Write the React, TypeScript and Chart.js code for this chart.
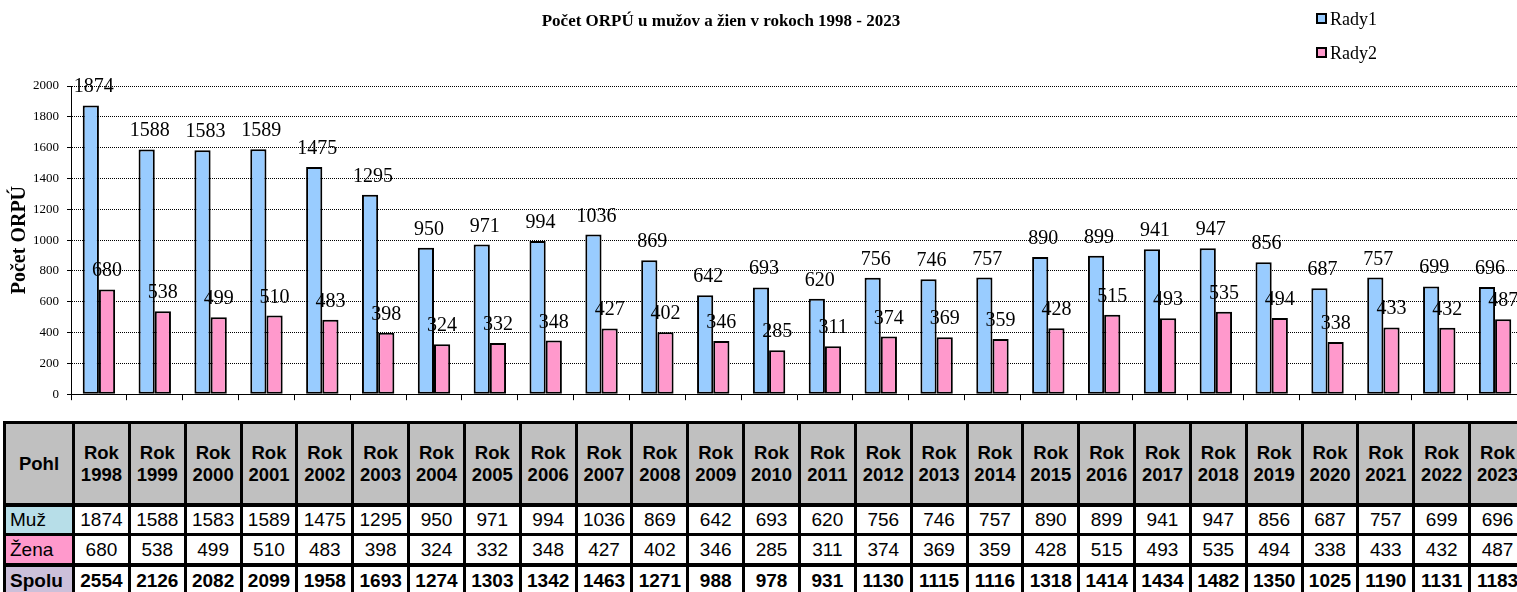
import { useEffect, useRef } from 'react';
import { Chart, registerables } from 'chart.js';

Chart.register(...registerables);

// ---------- data ----------
const years = [
  '1998', '1999', '2000', '2001', '2002', '2003', '2004', '2005', '2006',
  '2007', '2008', '2009', '2010', '2011', '2012', '2013', '2014', '2015',
  '2016', '2017', '2018', '2019', '2020', '2021', '2022', '2023',
];
const seriesNames = ['Rady1', 'Rady2'];
const muz = [
  1874, 1588, 1583, 1589, 1475, 1295, 950, 971, 994, 1036, 869, 642, 693,
  620, 756, 746, 757, 890, 899, 941, 947, 856, 687, 757, 699, 696,
];
const zena = [
  680, 538, 499, 510, 483, 398, 324, 332, 348, 427, 402, 346, 285, 311, 374,
  369, 359, 428, 515, 493, 535, 494, 338, 433, 432, 487,
];
const spolu = [
  2554, 2126, 2082, 2099, 1958, 1693, 1274, 1303, 1342, 1463, 1271, 988, 978,
  931, 1130, 1115, 1116, 1318, 1414, 1434, 1482, 1350, 1025, 1190, 1131, 1183,
];
const rowLabels = ['Muž', 'Žena', 'Spolu'];
const headerLabel = 'Pohl';
const yearPrefix = 'Rok';
const chartTitle = 'Počet ORPÚ u mužov a žien v rokoch 1998 - 2023';
const yAxisTitle = 'Počet ORPÚ';
const yMin = 0;
const yMax = 2000;
const yStep = 200;

// ---------- styles ----------
const SERIF = '"Liberation Serif", "Times New Roman", serif';
const SANS = '"Liberation Sans", Arial, sans-serif';
const barColors = ['#99ccff', '#ff99cc'];
const rowColors = ['#b7dee8', '#ff99cc', '#ccc0da'];
const CANVAS_W = 1530;
const CANVAS_H = 410;

const valueLabels = {
  id: 'valueLabels',
  afterDatasetsDraw(chart: any) {
    const ctx = chart.ctx;
    ctx.save();
    ctx.font = `20px ${SERIF}`;
    ctx.fillStyle = '#000';
    ctx.textAlign = 'center';
    ctx.textBaseline = 'alphabetic';
    chart.data.datasets.forEach((ds: any, di: number) => {
      const meta = chart.getDatasetMeta(di);
      meta.data.forEach((el: any, i: number) => {
        ctx.fillText(String(ds.data[i]), el.x + (di === 0 ? 3 : 0), el.y - 13);
      });
    });
    ctx.restore();
  },
};

const headerDecor = {
  id: 'headerDecor',
  afterDraw(chart: any) {
    const ctx = chart.ctx;
    ctx.save();
    ctx.fillStyle = '#000';
    ctx.font = `bold 17px ${SERIF}`;
    ctx.textAlign = 'center';
    ctx.textBaseline = 'alphabetic';
    ctx.fillText(chartTitle, 721, 26);

    ctx.font = `18px ${SERIF}`;
    ctx.textAlign = 'left';
    chart.data.datasets.forEach((ds: any, i: number) => {
      const top = 13 + i * 34;
      ctx.fillStyle = ds.backgroundColor;
      ctx.fillRect(1316, top, 11, 11);
      ctx.strokeStyle = '#000';
      ctx.lineWidth = 2;
      ctx.strokeRect(1317, top + 1, 9, 9);
      ctx.fillStyle = '#000';
      ctx.fillText(ds.label, 1330, top + 12);
    });
    ctx.restore();
  },
};

function ChartCanvas() {
  const ref = useRef<HTMLCanvasElement>(null);
  useEffect(() => {
    if (!ref.current) return;
    const chart = new Chart(ref.current, {
      type: 'bar',
      data: {
        labels: years,
        datasets: [
          {
            label: seriesNames[0],
            data: muz,
            backgroundColor: barColors[0],
            borderColor: '#000',
            borderWidth: 2,
            borderSkipped: false,
          },
          {
            label: seriesNames[1],
            data: zena,
            backgroundColor: barColors[1],
            borderColor: '#000',
            borderWidth: 2,
            borderSkipped: false,
          },
        ],
      },
      options: {
        responsive: false,
        animation: false,
        devicePixelRatio: 1,
        categoryPercentage: 0.58,
        barPercentage: 1,
        layout: { padding: { top: 86, right: CANVAS_W - 1523, left: 0, bottom: 0 } },
        plugins: {
          legend: { display: false },
          title: { display: false },
          tooltip: { enabled: false },
        },
        scales: {
          x: {
            ticks: { display: false },
            grid: {
              display: true,
              drawOnChartArea: false,
              drawTicks: true,
              tickLength: 6,
              tickColor: '#000',
              color: '#000',
            },
            border: { display: true, color: '#000', width: 1 },
            afterFit: (s: any) => {
              s.height = 12;
            },
          },
          y: {
            min: yMin,
            max: yMax,
            ticks: {
              stepSize: yStep,
              color: '#000',
              padding: 8,
              font: { family: SERIF, size: 13 },
              callback: (v: any) => String(v),
            },
            grid: {
              color: '#000',
              lineWidth: 1,
              tickLength: 4,
              tickColor: '#000',
            },
            border: { display: true, color: '#000', width: 1, dash: [1, 1] },
            title: {
              display: true,
              text: yAxisTitle,
              color: '#000',
              font: { family: SERIF, size: 20, weight: 'bold' },
              padding: { top: 8, bottom: 0 },
            },
            afterFit: (s: any) => {
              s.width = 71;
            },
          },
        },
      },
      plugins: [valueLabels, headerDecor],
    } as any);
    return () => chart.destroy();
  }, []);
  return (
    <canvas
      ref={ref}
      width={CANVAS_W}
      height={CANVAS_H}
      style={{ display: 'block', width: CANVAS_W, height: CANVAS_H }}
    />
  );
}

function DataTable() {
  const colW = 1452 / years.length;
  const rowH = [83, 29, 31, 30];
  const rowBottom = [4, 3, 4, 3];
  const rowsData = [muz, zena, spolu];
  const cell = (
    key: string,
    content: any,
    r: number,
    extra: React.CSSProperties = {},
  ) => (
    <div
      key={key}
      style={{
        boxSizing: 'border-box',
        borderRight: '3px solid #000',
        borderBottom: `${rowBottom[r]}px solid #000`,
        display: 'flex',
        alignItems: 'center',
        justifyContent: 'center',
        textAlign: 'center',
        whiteSpace: 'nowrap',
        overflow: 'visible',
        fontFamily: SANS,
        color: '#000',
        ...extra,
      }}
    >
      {content}
    </div>
  );
  const items: any[] = [];
  items.push(
    cell('h0', headerLabel, 0, {
      background: '#c0c0c0',
      fontWeight: 'bold',
      fontSize: 18.5,
    }),
  );
  years.forEach((y, i) => {
    items.push(
      cell(
        'h' + (i + 1),
        <span style={{ lineHeight: '22px' }}>
          {yearPrefix}
          <br />
          {y}
        </span>,
        0,
        { background: '#c0c0c0', fontWeight: 'bold', fontSize: 18.5 },
      ),
    );
  });
  rowsData.forEach((vals, r) => {
    const bold = r === 2;
    items.push(
      cell('r' + r, rowLabels[r], r + 1, {
        background: rowColors[r],
        justifyContent: 'flex-start',
        paddingLeft: 4,
        fontSize: 19,
        fontWeight: bold ? 'bold' : 'normal',
      }),
    );
    vals.forEach((v, i) => {
      items.push(
        cell('r' + r + '-' + i, String(v), r + 1, {
          background: '#fff',
          fontSize: 19,
          fontWeight: bold ? 'bold' : 'normal',
        }),
      );
    });
  });
  return (
    <div
      style={{
        position: 'absolute',
        left: 3,
        top: 421,
        display: 'grid',
        gridTemplateColumns: `69px repeat(${years.length}, ${colW}px)`,
        gridTemplateRows: rowH.map((h) => h + 'px').join(' '),
        borderLeft: '3px solid #000',
        borderTop: '3px solid #000',
      }}
    >
      {items}
    </div>
  );
}

export default function App() {
  return (
    <div
      style={{
        position: 'fixed',
        left: 0,
        top: 0,
        width: 1517,
        height: 592,
        overflow: 'hidden',
        background: '#fff',
      }}
    >
      <ChartCanvas />
      <DataTable />
    </div>
  );
}
